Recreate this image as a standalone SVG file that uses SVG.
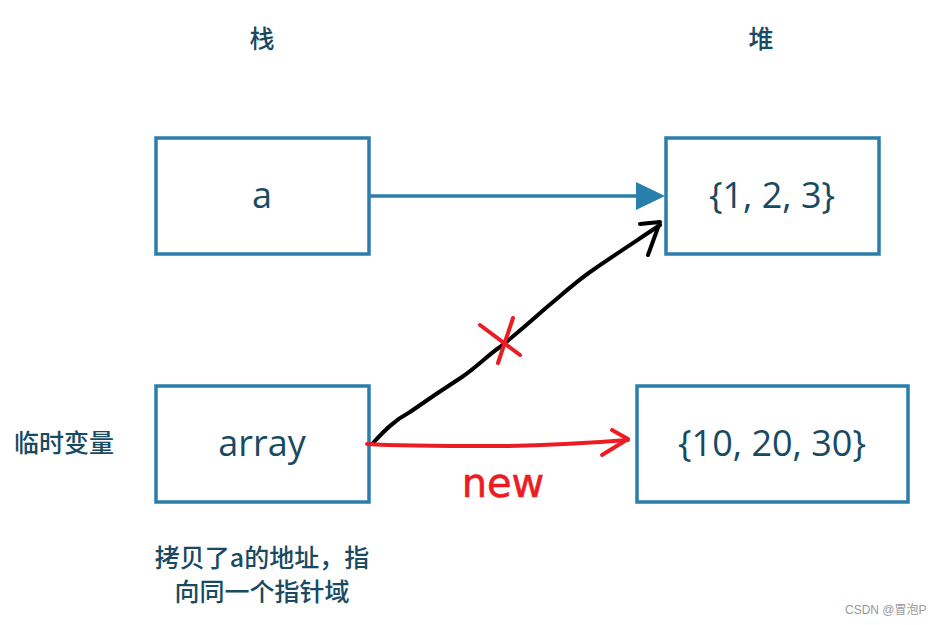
<svg xmlns="http://www.w3.org/2000/svg" width="941" height="625" viewBox="0 0 941 625">
<style>
.box{fill:#fff;stroke:#2a7eab;stroke-width:3.5}
.lbl{font-family:"Open Sans","Noto Sans","Liberation Sans",sans-serif;font-size:36px;fill:#184a62;text-anchor:middle}
.cn{font-family:"Noto Sans CJK SC","Noto Sans",sans-serif;font-size:25px;font-weight:500;fill:#184a62}
.ink{fill:none;stroke:#000;stroke-width:4;stroke-linecap:round;stroke-linejoin:round}
.red{fill:none;stroke:#ec1c24;stroke-width:4;stroke-linecap:round;stroke-linejoin:round}
</style>
<rect width="941" height="625" fill="#fff"/>
<text class="cn" x="262" y="48" text-anchor="middle" font-size="23">栈</text>
<text class="cn" x="761" y="48" text-anchor="middle" font-size="23">堆</text>
<g id="node-a"><rect class="box" x="156" y="138" width="213" height="116"/><text class="lbl" x="262" y="208">a</text></g>
<g id="node-heap1"><rect class="box" x="666" y="138" width="213" height="116"/><text class="lbl" x="772" y="208">{1, 2, 3}</text></g>
<g id="node-array"><rect class="box" x="156" y="386" width="213" height="116"/><text class="lbl" x="262" y="456">array</text></g>
<g id="node-heap2"><rect class="box" x="637" y="386" width="271" height="116"/><text class="lbl" x="772" y="456">{10, 20, 30}</text></g>
<g id="connectors">
<line x1="369" y1="196" x2="637" y2="196" stroke="#2a7eab" stroke-width="3.5"/>
<polygon points="636,182 665,196 636,210" fill="#2a7eab"/>
<path class="ink" d="M373,443 C385,430 395,420 410,412 C430,398 445,388 462,377 C478,366 488,355 500,347 C515,335 530,322 547,307 C565,292 578,280 593,270 C610,258 627,247 660,225"/>
<path class="ink" d="M640,224 L660,222 L648,255"/>
<path class="red" d="M480,325 L520,355 M513,318 L498,363"/>
<path class="red" d="M367,444 C400,446 450,446 493,446 C540,446 590,443 628,440"/>
<path class="red" d="M612,430 L628,439 L602,455"/>
</g>
<text x="503" y="497" font-family="'Comic Sans MS','DejaVu Sans',sans-serif" font-size="40" fill="#ec1c24" stroke="#ec1c24" stroke-width="0.6" text-anchor="middle">new</text>
<text class="cn" x="14" y="452">临时变量</text>
<text class="cn" x="262" y="567" text-anchor="middle">拷贝了a的地址，指</text>
<text class="cn" x="262" y="601" text-anchor="middle">向同一个指针域</text>
<text x="845" y="614" font-family="'Liberation Sans','Noto Sans CJK SC',sans-serif" font-size="12" fill="#999">CSDN @冒泡P</text>
</svg>
